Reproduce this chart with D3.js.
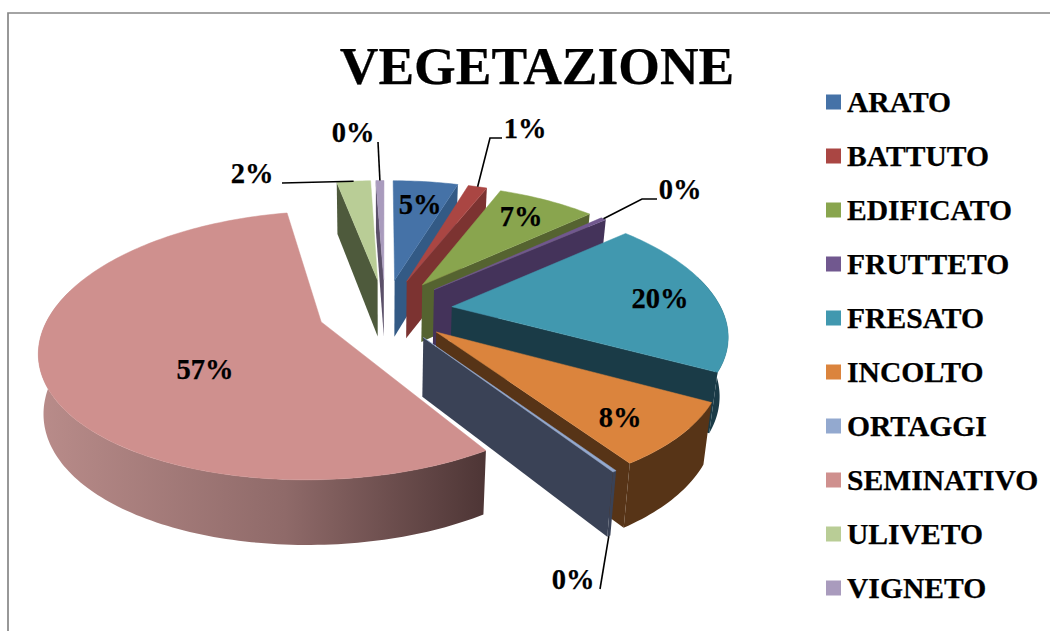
<!DOCTYPE html>
<html>
<head>
<meta charset="utf-8">
<script src="https://cdnjs.cloudflare.com/ajax/libs/d3/7.8.5/d3.min.js"></script>
<style>
  html, body { margin: 0; background: #fff; }
  text { font-family: "Liberation Serif", serif; font-weight: bold; fill: #000; stroke: #000; stroke-width: 0.25px; }
</style>
</head>
<body>
<div id="chart"></div>
<script>
var categories = ["ARATO", "BATTUTO", "EDIFICATO", "FRUTTETO", "FRESATO", "INCOLTO", "ORTAGGI", "SEMINATIVO", "ULIVETO", "VIGNETO"],
    values = [4.8, 1.4, 7.2, 0.4, 19.5, 7.8, 0.2, 56.5, 2.5, 0.6],
    labels = ["5%", "1%", "7%", "0%", "20%", "8%", "0%", "57%", "2%", "0%"],
    topColors = ["#4572a7", "#aa4643", "#89a54e", "#71588f", "#4198af", "#db843d", "#93a9cf", "#cf908e", "#b9cd96", "#a99bbd"],
    wallColors = ["#335a85", "#7c3331", "#556330", "#44335a", "#1a3b47", "#573417", "#3a4256", "#8f6a69", "#4e5a3c", "#5b5069"];

// back to front
var drawOrder = [7, 8, 9, 0, 1, 2, 3, 4, 5, 6];

// label anchors, with the elbow of the leader where there is one
var labelPos = [
  {x: 420, y: 214}, {x: 525, y: 138, leader: [[502, 138], [490, 138]]}, {x: 521, y: 226},
  {x: 680, y: 199, leader: [[657, 199], [642, 199]]}, {x: 660, y: 308}, {x: 620, y: 427},
  {x: 573, y: 589, leader: [[600, 589]]}, {x: 205, y: 379},
  {x: 252, y: 183, leader: [[282, 183]]}, {x: 353, y: 142, leader: [[378, 142]]}
];

var width = 1050, height = 631;

// pie "camera"
var cx = 385, cy = 310,
    R = 270, Ry = 126,
    kx = 0.19, ky = 0.173,
    explode = 0.25,
    depth = 58,
    shrinkRight = 0.975, shrinkLeft = 0.985;

var svg = d3.select("#chart").append("svg")
    .attr("width", width)
    .attr("height", height)
    .style("display", "block");

var grad = svg.append("defs").append("linearGradient")
    .attr("id", "semi-wall")
    .attr("gradientUnits", "userSpaceOnUse")
    .attr("x1", 38).attr("x2", 487).attr("y1", 0).attr("y2", 0);
grad.append("stop").attr("offset", "0").attr("stop-color", "#b98c8a");
grad.append("stop").attr("offset", "0.55").attr("stop-color", "#8f6a69");
grad.append("stop").attr("offset", "1").attr("stop-color", "#4d3535");

// chart frame
svg.append("path")
    .attr("d", "M8,631V13H1050")
    .attr("fill", "none")
    .attr("stroke", "#878787")
    .attr("stroke-width", 1.7);

var pie = d3.pie().sort(null).value(function(d) { return d; });
var arcs = pie(values);

function project(u, v) {
  return [cx + R * u / (1 + kx * v), cy - Ry * v / (1 + ky * v)];
}

function topPoint(d, r, a) {
  var mid = (d.startAngle + d.endAngle) / 2;
  return project(explode * Math.sin(mid) + r * Math.sin(a), explode * Math.cos(mid) + r * Math.cos(a));
}

// same point at the bottom of the slab
function basePoint(d, r, a) {
  var mid = (d.startAngle + d.endAngle) / 2,
      v = explode * Math.cos(mid) + r * Math.cos(a),
      p = topPoint(d, r, a),
      shrink = p[0] < cx ? shrinkLeft : shrinkRight;
  return [cx + (p[0] - cx) * shrink, p[1] + depth / (1 + 0.1 * v)];
}

function arcAngles(a0, a1) {
  var n = Math.max(2, Math.ceil((a1 - a0) / 0.02)), out = [];
  for (var i = 0; i <= n; i++) out.push(a0 + (a1 - a0) * i / n);
  return out;
}

var line = d3.line();

function topFace(d) {
  var pts = [topPoint(d, 0, 0)];
  arcAngles(d.startAngle, d.endAngle).forEach(function(a) { pts.push(topPoint(d, 1, a)); });
  return line(pts) + "Z";
}

// runs a bit past the sides so the silhouette closes under the top face
function outerWall(d) {
  var a0 = Math.max(d.startAngle, Math.PI * 0.42), a1 = Math.min(d.endAngle, Math.PI * 1.58);
  if (a1 <= a0) return null;
  var as = arcAngles(a0, a1), pts = [];
  as.forEach(function(a) { pts.push(topPoint(d, 1, a)); });
  as.reverse().forEach(function(a) { pts.push(basePoint(d, 1, a)); });
  return line(pts) + "Z";
}

function cutWall(d, a) {
  return line([topPoint(d, 0, 0), topPoint(d, 1, a), basePoint(d, 1, a), basePoint(d, 0, 0)]) + "Z";
}

var slices = svg.selectAll(".slice")
    .data(drawOrder)
  .enter().append("g")
    .attr("class", "slice");

slices.each(function(i) {
  var g = d3.select(this), d = arcs[i],
      wallFill = i === 7 ? "url(#semi-wall)" : wallColors[i];

  // only the cut faces turned to the viewer
  if (Math.sin(d.endAngle) > 0) g.append("path").attr("d", cutWall(d, d.endAngle)).attr("fill", wallFill);
  if (Math.sin(d.startAngle) < 0) g.append("path").attr("d", cutWall(d, d.startAngle)).attr("fill", wallFill);

  var wall = outerWall(d);
  if (wall) g.append("path").attr("d", wall).attr("fill", wallFill);

  g.append("path")
      .attr("d", topFace(d))
      .attr("fill", topColors[i])
      .attr("stroke", topColors[i])
      .attr("stroke-width", 0.5);
});

// leaders
labelPos.forEach(function(p, i) {
  if (!p.leader) return;
  var d = arcs[i], mid = (d.startAngle + d.endAngle) / 2,
      end = i === 6 ? basePoint(d, 1, mid) : topPoint(d, 1, mid);
  svg.append("path")
      .attr("d", line(p.leader.concat([end])))
      .attr("fill", "none")
      .attr("stroke", "#000")
      .attr("stroke-width", 1.6);
});

svg.selectAll(".label")
    .data(labels)
  .enter().append("text")
    .attr("class", "label")
    .attr("x", function(d, i) { return labelPos[i].x; })
    .attr("y", function(d, i) { return labelPos[i].y; })
    .attr("text-anchor", "middle")
    .style("font-size", "28.5px")
    .text(function(d) { return d; });

svg.append("text")
    .attr("x", 537)
    .attr("y", 84)
    .attr("text-anchor", "middle")
    .style("font-size", "53.5px")
    .text("VEGETAZIONE");

// legend
var legendY = d3.scalePoint().domain(categories).range([102, 588]);

var legend = svg.selectAll(".legend")
    .data(categories)
  .enter().append("g")
    .attr("class", "legend")
    .attr("transform", function(d) { return "translate(826," + legendY(d) + ")"; });

legend.append("rect")
    .attr("y", -7.5)
    .attr("width", 15)
    .attr("height", 15)
    .attr("fill", function(d, i) { return topColors[i]; });

legend.append("text")
    .attr("x", 21)
    .attr("y", 10)
    .style("font-size", "29.6px")
    .text(function(d) { return d; });
</script>
</body>
</html>
